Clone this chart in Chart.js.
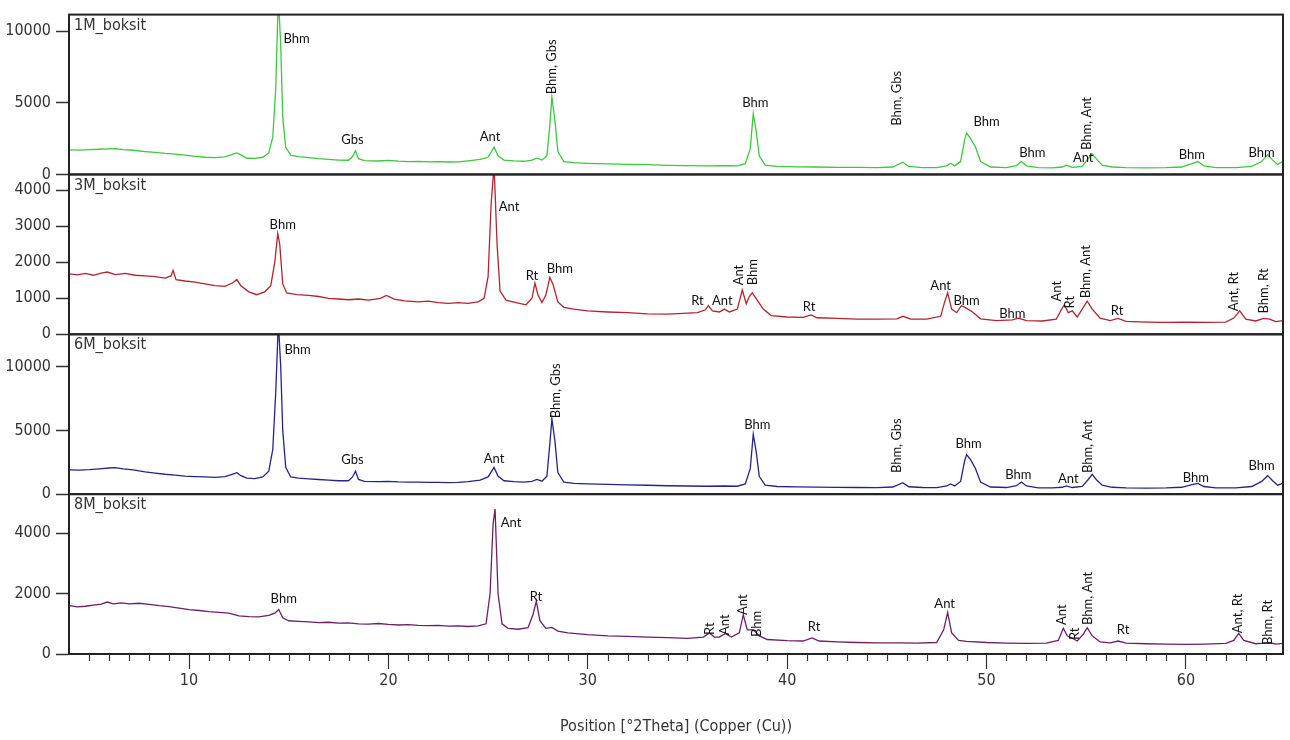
<!DOCTYPE html>
<html>
<head>
<meta charset="utf-8">
<script src="https://cdn.jsdelivr.net/npm/chart.js@4.4.1/dist/chart.umd.min.js"></script>
<style>
  html, body { margin: 0; padding: 0; background: #fff; }
  #wrap { width: 1290px; height: 740px; }
</style>
</head>
<body>
<div id="wrap"><canvas id="chart" width="1290" height="740"></canvas></div>
<script>
// data: [2theta, counts]
const panelNames = ["1M_boksit", "3M_boksit", "6M_boksit", "8M_boksit"];
const lineColors = ["#3cc83c", "#b4232d", "#23238c", "#6e1e64"];

const xTicks = [10, 20, 30, 40, 50, 60];
const yTicks1 = [0, 5000, 10000];
const yTicks2 = [0, 1000, 2000, 3000, 4000];
const yTicks3 = [0, 5000, 10000];
const yTicks4 = [0, 2000, 4000];
const yMax = [11160, 4440, 12540, 5290];

const scan1M = [
  [4.0,1720],[4.5,1700],[5.0,1730],[5.5,1760],[6.0,1790],[6.3,1800],[6.7,1740],[7.2,1690],[7.8,1600],[8.3,1540],
  [8.8,1470],[9.3,1420],[9.8,1350],[10.3,1260],[10.8,1200],[11.3,1180],[11.8,1230],[12.2,1420],[12.4,1500],[12.6,1370],
  [12.9,1130],[13.3,1120],[13.7,1200],[14.0,1500],[14.2,2600],[14.35,6000],[14.48,12500],[14.6,9000],[14.7,4000],[14.85,1900],
  [15.1,1350],[15.5,1250],[16.0,1180],[16.5,1100],[17.0,1050],[17.5,1000],[18.0,990],[18.2,1250],[18.35,1650],[18.5,1100],
  [18.8,960],[19.5,940],[20.0,980],[20.5,930],[21.0,900],[21.5,910],[22.0,880],[22.5,890],[23.0,870],[23.5,880],
  [24.0,950],[24.6,1050],[25.0,1200],[25.3,1900],[25.5,1300],[25.8,1000],[26.3,950],[26.8,920],[27.2,1000],[27.45,1130],
  [27.7,1000],[27.95,1300],[28.1,3500],[28.2,5400],[28.35,3800],[28.5,1600],[28.8,900],[29.3,820],[30,780],[31,740],
  [32,700],[33,680],[34,640],[35,620],[36,600],[36.8,620],[37.5,600],[37.9,750],[38.15,1800],[38.3,4250],
  [38.45,3000],[38.6,1300],[38.9,650],[39.5,560],[40.5,530],[41.5,520],[42.5,500],[43.5,490],[44.5,480],[45.3,520],
  [45.8,850],[46.1,560],[46.8,480],[47.5,480],[48.0,600],[48.2,780],[48.4,600],[48.7,900],[48.9,2400],[49.0,2900],
  [49.2,2500],[49.45,1900],[49.7,900],[50.2,520],[51,480],[51.5,620],[51.75,900],[52.0,600],[52.6,470],[53.3,460],
  [53.8,520],[54.0,650],[54.3,500],[54.8,560],[55.1,1100],[55.3,1450],[55.5,1100],[55.8,650],[56.3,520],[57,480],
  [58,460],[59,470],[59.8,520],[60.3,760],[60.6,900],[60.9,600],[61.5,480],[62.5,470],[63.3,560],[63.8,900],
  [64.1,1380],[64.35,1000],[64.6,700],[64.85,900]
];

const scan3M = [
  [4.0,1680],[4.4,1650],[4.8,1690],[5.2,1640],[5.6,1700],[5.9,1730],[6.3,1660],[6.8,1690],[7.3,1640],[7.8,1620],
  [8.3,1600],[8.8,1560],[9.1,1620],[9.2,1780],[9.35,1520],[9.8,1480],[10.3,1450],[10.8,1400],[11.3,1350],[11.8,1330],
  [12.2,1430],[12.4,1520],[12.6,1350],[13.0,1180],[13.4,1100],[13.8,1180],[14.1,1350],[14.3,2000],[14.45,2800],[14.55,2500],
  [14.7,1400],[14.9,1150],[15.4,1100],[16.0,1080],[16.5,1050],[17.0,1000],[17.5,980],[18.0,960],[18.5,980],[19.0,950],
  [19.6,1000],[19.9,1080],[20.3,980],[20.8,930],[21.5,900],[22.0,920],[22.5,880],[23.0,860],[23.5,880],[24.0,860],
  [24.5,900],[24.8,1000],[25.0,1600],[25.15,3600],[25.3,4700],[25.45,2500],[25.6,1200],[25.9,950],[26.4,880],[26.9,820],
  [27.2,1000],[27.35,1420],[27.5,1100],[27.7,880],[27.9,1100],[28.1,1580],[28.25,1400],[28.5,900],[28.8,750],[29.3,700],
  [30,650],[31,620],[32,600],[33,570],[34,560],[34.8,580],[35.5,600],[35.9,680],[36.05,800],[36.25,650],
  [36.6,620],[36.85,700],[37.1,620],[37.5,700],[37.75,1230],[37.95,850],[38.1,1050],[38.25,1150],[38.5,950],[38.8,700],
  [39.2,520],[40,480],[40.8,470],[41.2,540],[41.5,460],[42.5,440],[43.5,420],[44.5,420],[45.5,430],[45.8,500],
  [46.2,420],[47,420],[47.7,500],[47.9,900],[48.05,1150],[48.25,700],[48.5,600],[48.75,800],[49.0,720],[49.3,620],
  [49.7,430],[50.5,380],[51.3,400],[51.6,450],[52,380],[52.8,370],[53.5,420],[53.75,680],[53.9,820],[54.1,600],
  [54.3,650],[54.55,480],[54.8,700],[55.05,920],[55.3,700],[55.7,450],[56.2,380],[56.6,440],[57,360],[58,340],
  [59,330],[60,340],[61,330],[62,340],[62.4,450],[62.7,650],[63.0,420],[63.5,370],[63.9,440],[64.2,420],
  [64.5,350],[64.9,380]
];

const scan6M = [
  [4.0,1900],[4.5,1880],[5.0,1920],[5.5,1980],[6.0,2050],[6.3,2080],[6.7,1980],[7.2,1900],[7.8,1750],[8.3,1650],
  [8.8,1560],[9.3,1500],[9.8,1420],[10.3,1380],[10.8,1350],[11.3,1320],[11.8,1380],[12.2,1580],[12.4,1680],[12.6,1450],
  [12.9,1250],[13.3,1220],[13.7,1350],[14.0,1800],[14.2,3500],[14.35,8000],[14.48,13500],[14.6,10000],[14.7,5000],[14.85,2100],
  [15.1,1350],[15.5,1250],[16.0,1200],[16.5,1150],[17.0,1100],[17.5,1050],[18.0,1050],[18.2,1350],[18.35,1800],[18.5,1150],
  [18.8,1000],[19.5,980],[20.0,1000],[20.5,960],[21.0,940],[21.5,950],[22.0,920],[22.5,930],[23.0,900],[23.5,920],
  [24.0,980],[24.6,1100],[25.0,1350],[25.3,2100],[25.5,1400],[25.8,1050],[26.3,980],[26.8,950],[27.2,1000],[27.45,1150],
  [27.7,1020],[27.95,1400],[28.1,4000],[28.2,5900],[28.35,4200],[28.5,1700],[28.8,950],[29.3,850],[30,800],[31,760],
  [32,720],[33,700],[34,660],[35,640],[36,620],[36.8,640],[37.5,620],[37.9,800],[38.15,2000],[38.3,4700],
  [38.45,3300],[38.6,1400],[38.9,700],[39.5,600],[40.5,570],[41.5,550],[42.5,530],[43.5,520],[44.5,510],[45.3,560],
  [45.8,900],[46.1,580],[46.8,520],[47.5,510],[48.0,640],[48.2,800],[48.4,640],[48.7,1000],[48.9,2600],[49.0,3100],
  [49.2,2700],[49.45,2000],[49.7,950],[50.2,560],[51,520],[51.5,660],[51.75,950],[52.0,640],[52.6,500],[53.3,490],
  [53.8,540],[54.0,640],[54.3,520],[54.8,600],[55.1,1150],[55.3,1550],[55.5,1150],[55.8,700],[56.3,540],[57,500],
  [58,480],[59,490],[59.8,540],[60.3,740],[60.6,850],[60.9,600],[61.5,500],[62.5,490],[63.3,600],[63.8,1000],
  [64.1,1450],[64.35,1050],[64.6,700],[64.85,850]
];

const scan8M = [
  [4.0,1600],[4.4,1560],[4.8,1580],[5.2,1620],[5.6,1650],[5.9,1720],[6.2,1660],[6.6,1690],[7.0,1660],[7.5,1680],
  [8.0,1640],[8.5,1600],[9.0,1570],[9.5,1520],[10.0,1470],[10.5,1440],[11.0,1400],[11.5,1380],[12.0,1350],[12.5,1260],
  [13.0,1240],[13.5,1230],[14.0,1280],[14.3,1350],[14.5,1470],[14.7,1200],[15.0,1100],[15.5,1080],[16.0,1060],[16.5,1040],
  [17.0,1050],[17.5,1020],[18.0,1030],[18.5,1000],[19.0,990],[19.5,1010],[20.0,980],[20.5,960],[21.0,970],[21.5,950],
  [22.0,940],[22.5,950],[23.0,920],[23.5,930],[24.0,910],[24.5,930],[24.9,1000],[25.1,2000],[25.25,4300],[25.35,4800],
  [25.5,2000],[25.7,1000],[26.0,850],[26.5,820],[27.0,870],[27.25,1300],[27.42,1750],[27.6,1100],[27.9,850],[28.2,880],
  [28.5,760],[29.0,700],[30,640],[31,600],[32,580],[33,560],[34,540],[35,520],[35.8,560],[36.1,700],
  [36.35,560],[36.6,560],[36.9,680],[37.2,560],[37.6,700],[37.8,1300],[38.0,800],[38.3,800],[38.6,600],[39.0,480],
  [40,440],[40.8,430],[41.25,530],[41.6,430],[42.5,400],[43.5,380],[44.5,370],[45.5,370],[46.5,360],[47.5,380],
  [47.85,800],[48.05,1380],[48.25,700],[48.6,450],[49.0,420],[50,380],[51,360],[52,350],[53,360],[53.6,450],
  [53.85,850],[54.05,600],[54.3,520],[54.55,430],[54.85,650],[55.05,870],[55.3,600],[55.7,400],[56.2,370],[56.6,430],
  [57,360],[58,340],[59,330],[60,320],[61,330],[62,350],[62.4,450],[62.65,680],[62.9,450],[63.5,340],
  [63.9,360],[64.2,380],[64.5,330],[64.9,350]
];

// phase labels: [2theta, counts, text, vertical]
const labels1M = [
  [15.4, 9500, "Bhm", false], [18.2, 2400, "Gbs", false], [25.1, 2650, "Ant", false],
  [28.2, 5600, "Bhm, Gbs", true], [38.4, 5000, "Bhm", false], [45.5, 3400, "Bhm, Gbs", true],
  [50.0, 3700, "Bhm", false], [52.3, 1500, "Bhm", false], [54.85, 1150, "Ant", false],
  [55.05, 1700, "Bhm, Ant", true], [60.3, 1370, "Bhm", false], [63.8, 1500, "Bhm", false]
];
const labels3M = [
  [14.7, 3050, "Bhm", false], [26.05, 3550, "Ant", false], [27.2, 1630, "Rt", false],
  [28.6, 1830, "Bhm", false], [35.5, 940, "Rt", false], [36.75, 940, "Ant", false],
  [37.6, 1360, "Ant", true], [38.3, 1360, "Bhm", true], [41.1, 750, "Rt", false],
  [47.7, 1360, "Ant", false], [49.0, 940, "Bhm", false], [51.3, 580, "Bhm", false],
  [53.55, 910, "Ant", true], [54.2, 720, "Rt", true], [55.0, 1000, "Bhm, Ant", true],
  [56.55, 665, "Rt", false], [62.4, 640, "Ant, Rt", true], [63.9, 580, "Bhm, Rt", true]
];
const labels6M = [
  [15.45, 11300, "Bhm", false], [18.2, 2680, "Gbs", false], [25.3, 2750, "Ant", false],
  [28.4, 5950, "Bhm, Gbs", true], [38.5, 5430, "Bhm", false], [45.5, 1650, "Bhm, Gbs", true],
  [49.1, 3930, "Bhm", false], [51.6, 1500, "Bhm", false], [54.1, 1180, "Ant", false],
  [55.1, 1650, "Bhm, Ant", true], [60.5, 1260, "Bhm", false], [63.8, 2200, "Bhm", false]
];
const labels8M = [
  [14.75, 1820, "Bhm", false], [26.15, 4330, "Ant", false], [27.4, 1880, "Rt", false],
  [36.1, 630, "Rt", true], [36.85, 630, "Ant", true], [37.8, 1290, "Ant", true],
  [38.5, 560, "Bhm", true], [41.35, 890, "Rt", false], [47.9, 1650, "Ant", false],
  [53.8, 960, "Ant", true], [54.45, 460, "Rt", true], [55.1, 960, "Bhm, Ant", true],
  [56.85, 790, "Rt", false], [62.6, 690, "Ant, Rt", true], [64.1, 300, "Bhm, Rt", true]
];

const scans = [scan1M, scan3M, scan6M, scan8M];
const peakLabels = [labels1M, labels3M, labels6M, labels8M];
const yTickSets = [yTicks1, yTicks2, yTicks3, yTicks4];
const axisIds = ["y1", "y2", "y3", "y4"];

const tickFont = { family: "'Liberation Sans Narrow', 'DejaVu Sans Condensed', 'Liberation Sans', sans-serif", size: 16 };

// panels frame + minor ticks + labels
const xrdDecor = {
  id: "xrdDecor",
  afterDatasetsDraw(chart) {
    const ctx = chart.ctx;
    const area = chart.chartArea;
    const x = chart.scales.x;
    ctx.save();
    // frames
    ctx.strokeStyle = "#222";
    ctx.lineWidth = 2;
    axisIds.forEach(id => {
      const s = chart.scales[id];
      ctx.strokeRect(area.left, s.top, area.right - area.left, s.bottom - s.top);
    });
    // minor ticks
    ctx.lineWidth = 1.2;
    ctx.strokeStyle = "#333";
    for (let v = 5; v <= 64; v++) {
      if (v % 10 === 0) continue;
      const px = Math.round(x.getPixelForValue(v)) + 0.5;
      ctx.beginPath();
      ctx.moveTo(px, x.top);
      ctx.lineTo(px, x.top + 7);
      ctx.stroke();
    }
    // panel names
    ctx.fillStyle = "#333";
    ctx.font = "16px " + tickFont.family;
    ctx.textAlign = "left";
    ctx.textBaseline = "middle";
    axisIds.forEach((id, i) => {
      ctx.fillText(panelNames[i], area.left + 5, chart.scales[id].top + 11);
    });
    // phase labels
    ctx.fillStyle = "#111";
    ctx.font = "13px Lato, 'Open Sans', sans-serif";
    peakLabels.forEach((list, i) => {
      const ys = chart.scales[axisIds[i]];
      list.forEach(([tx, ty, text, vertical]) => {
        const px = x.getPixelForValue(tx);
        const py = ys.getPixelForValue(ty);
        if (vertical) {
          ctx.save();
          ctx.translate(px, py);
          ctx.rotate(-Math.PI / 2);
          ctx.textAlign = "left";
          ctx.textBaseline = "middle";
          ctx.fillText(text, 0, 0);
          ctx.restore();
        } else {
          ctx.textAlign = "center";
          ctx.textBaseline = "middle";
          ctx.fillText(text, px, py);
        }
      });
    });
    ctx.restore();
  }
};

const makeYAxis = (i) => ({
  type: "linear",
  position: "left",
  stack: "xrd",
  stackWeight: 1,
  min: 0,
  max: yMax[i],
  border: { display: true, color: "#111", width: 2 },
  grid: { drawOnChartArea: false, drawTicks: true, tickLength: 13, tickColor: "#333", tickWidth: 1.5 },
  ticks: { font: tickFont, color: "#333", padding: 5, callback: (v) => String(v) },
  afterBuildTicks: (scale) => { scale.ticks = yTickSets[i].map(v => ({ value: v })); },
  afterFit: (scale) => { scale.width = 69; }
});

const datasets = scans.map((scan, i) => ({
  label: panelNames[i],
  data: scan.map(p => ({ x: p[0], y: p[1] })),
  borderColor: lineColors[i],
  borderWidth: 1.3,
  pointRadius: 0,
  tension: 0,
  fill: false,
  xAxisID: "x",
  yAxisID: axisIds[i]
}));

new Chart(document.getElementById("chart").getContext("2d"), {
  type: "line",
  data: { datasets: datasets },
  options: {
    responsive: false,
    animation: false,
    layout: { padding: { left: 0, right: 7, top: 10, bottom: 0 } },
    plugins: { legend: { display: false }, tooltip: { enabled: false } },
    scales: {
      x: {
        type: "linear",
        position: "bottom",
        min: 3.98,
        max: 64.87,
        border: { display: true, color: "#111", width: 2 },
        grid: { drawOnChartArea: false, drawTicks: true, tickLength: 15, tickColor: "#333", tickWidth: 1.2 },
        ticks: { font: tickFont, color: "#333", padding: 2, maxRotation: 0, callback: (v) => String(v) },
        afterBuildTicks: (scale) => { scale.ticks = xTicks.map(v => ({ value: v })); },
        title: { display: true, text: "Position [°2Theta] (Copper (Cu))", font: tickFont, color: "#333", padding: { top: 8 } },
        afterFit: (scale) => { scale.height = 86; }
      },
      y4: makeYAxis(3),
      y3: makeYAxis(2),
      y2: makeYAxis(1),
      y1: makeYAxis(0)
    }
  },
  plugins: [xrdDecor]
});
</script>
</body>
</html>
